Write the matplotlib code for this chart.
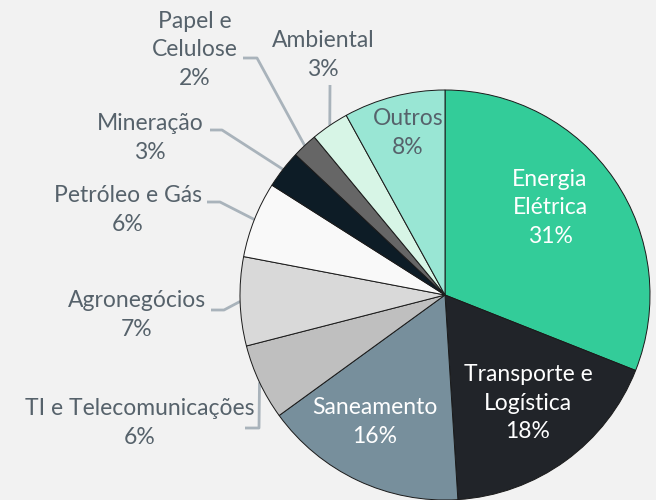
import numpy as np
import matplotlib.pyplot as plt

setores = ['Energia\nElétrica', 'Transporte e\nLogística', 'Saneamento', 'TI e Telecomunicações',
           'Agronegócios', 'Petróleo e Gás', 'Mineração', 'Papel e\nCelulose', 'Ambiental', 'Outros']
valores = [31, 18, 16, 6, 7, 6, 3, 2, 3, 8]
cores = ['#33CC99', '#212429', '#778F9C', '#BFBFBF', '#D9D9D9', '#F9F9F9',
         '#0D1C26', '#666666', '#D7F5E6', '#99E6D4']

fundo = '#F2F2F2'
cinza_txt = '#56626B'
cinza_linha = '#A9B3BB'

plt.rcParams['font.family'] = ['Lato', 'DejaVu Sans']

fig = plt.figure(figsize=(6.56, 5.0), dpi=100, facecolor=fundo)
ax = fig.add_axes([0, 0, 1, 1])
ax.set_facecolor(fundo)

H = 500
cx, cy, R = 445, H - 295, 205
wedges, _ = ax.pie(valores, colors=cores, startangle=90, counterclock=False,
                   center=(cx, cy), radius=R, frame=True,
                   wedgeprops=dict(edgecolor='#1a1a1a', linewidth=0.7))
ax.set_xlim(0, 656)
ax.set_ylim(0, 500)
ax.set_aspect('equal')
ax.axis('off')

total = sum(valores)
pct = [f'{round(v / total * 100)}%' for v in valores]
fs = 16.5
ls = 1.45

# rótulos dentro das fatias (posição em pixels da imagem)
internos = {0: (550, 208, 'white'), 1: (528, 403, 'white'),
            2: (375, 422, 'white'), 9: (408, 133, cinza_txt)}
for i, (x, y, c) in internos.items():
    ax.text(x, H - y, setores[i] + '\n' + pct[i], ha='center', va='center',
            color=c, fontsize=fs, linespacing=ls)

# rótulos externos com linha de chamada
externos = {
    3: ((140, 423), [(245, 428), (259, 428)]),
    4: ((137, 315), [(211, 310), (224, 310)]),
    5: ((128, 210), [(207, 202), (220, 202)]),
    6: ((150, 138), [(210, 130), (222, 130)]),
    7: ((195, 50), [(243, 58), (257, 58)]),
    8: ((323, 55), [(330, 85)]),
}
cum = np.cumsum([0] + valores)
for i, ((x, y), pontos) in externos.items():
    ax.text(x, H - y, setores[i] + '\n' + pct[i], ha='center', va='center',
            color=cinza_txt, fontsize=fs, linespacing=ls)
    meio = (cum[i] + cum[i + 1]) / 2 / total
    ang = np.deg2rad(90 - meio * 360)
    ex, ey = cx + R * np.cos(ang), cy + R * np.sin(ang)
    xs = [p[0] for p in pontos] + [ex]
    ys = [H - p[1] for p in pontos] + [ey]
    ax.plot(xs, ys, color=cinza_linha, lw=2, solid_capstyle='butt', zorder=0.5)

fig.savefig('out.png', dpi=100, facecolor=fundo)
